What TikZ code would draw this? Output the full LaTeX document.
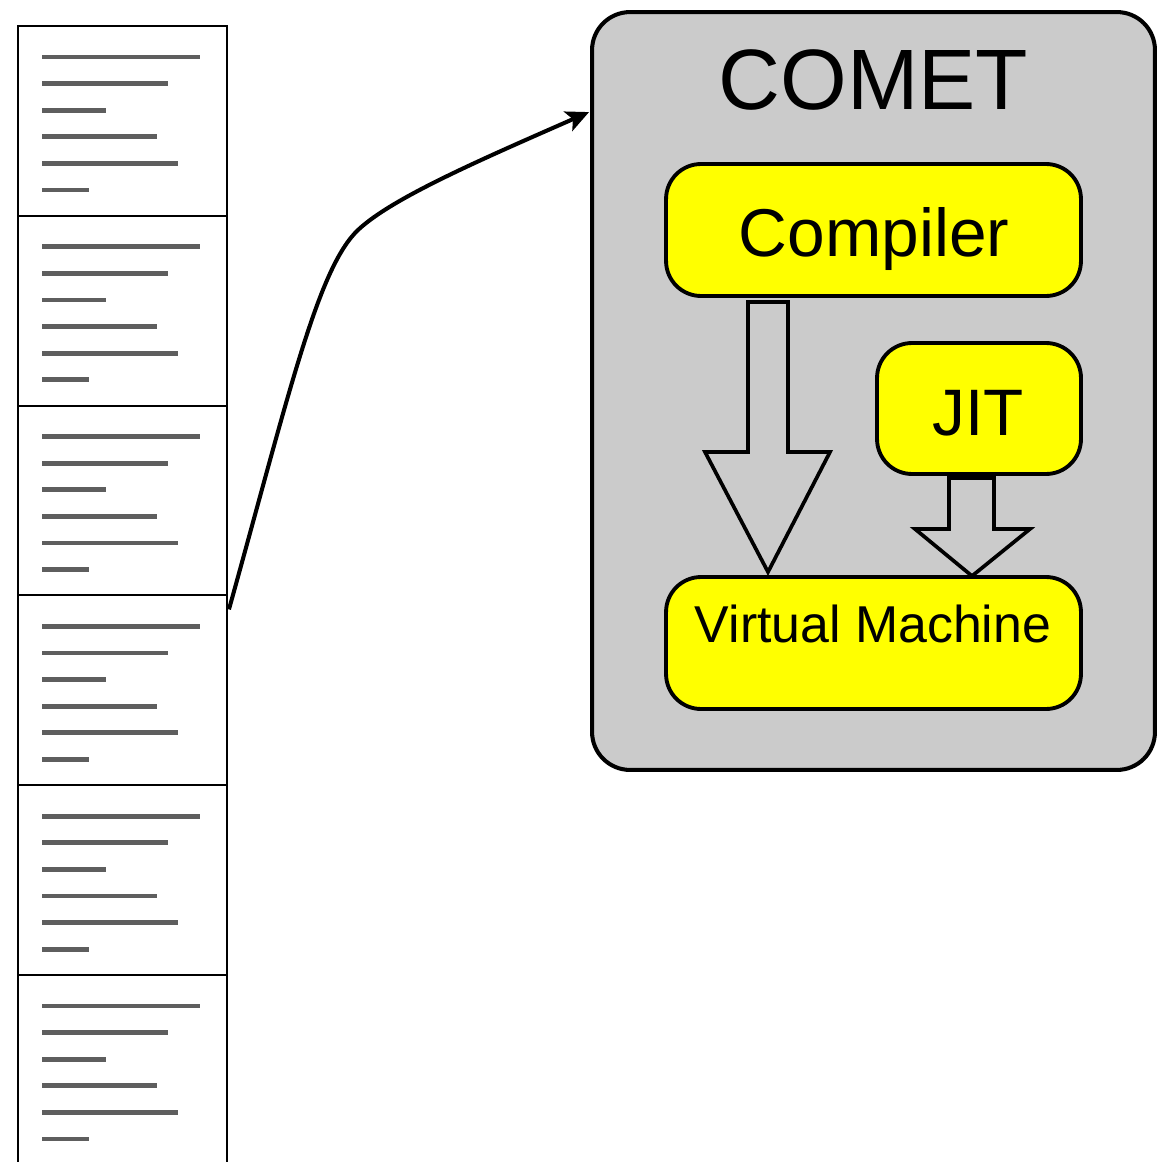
\documentclass[tikz,border=0pt]{standalone}
\usepackage{fontspec}
\setmainfont{Liberation Sans}
\usetikzlibrary{calc,arrows.meta}
\definecolor{cometgray}{HTML}{CBCBCB}
\definecolor{boxyellow}{HTML}{FFFF00}
\definecolor{textline}{HTML}{5E5E5E}
\begin{document}
\begin{tikzpicture}[x=0.02cm,y=-0.02cm,
  docbox/.style={draw=black,line width=1.1pt,fill=white,minimum width=4.18cm,minimum height=3.796cm,inner sep=0pt,outer sep=0pt,anchor=north west},
  docline/.style={draw=textline,line width=2.8pt},
  container/.style={draw=black,line width=2.3pt,fill=cometgray,rounded corners=0.76cm,minimum width=11.26cm,minimum height=15.16cm,inner sep=0pt,outer sep=0pt},
  ybox/.style={draw=black,line width=2.2pt,fill=boxyellow,rounded corners=0.7cm,minimum height=2.64cm,inner sep=0pt,outer sep=0pt},
  blockarrow/.style={draw=black,line width=2.1pt,fill=cometgray,line join=miter},
  label/.style={anchor=base,inner sep=0pt},
  flow/.style={draw=black,line width=2.3pt,-{Stealth[length=13pt,width=12pt,inset=3pt]}}
]
\useasboundingbox (0,0) rectangle (1157,1162);
\clip (0,0) rectangle (1157,1162);

% document stack
\foreach \i in {1,...,6}{
  \node[docbox] (d\i) at (18,{26+(\i-1)*189.8}) {};
  \foreach \j/\len in {0/158,1/126,2/64,3/115,4/136,5/47}
    \draw[docline] ($(d\i.north west)+(24,{31+26.6*\j})$) -- ++(\len,0);
}

% COMET container
\node[container] (comet) at (873.5,391) {};
\node[label,font=\fontsize{48.8}{50}\selectfont] (comettitle) at (873.5,110) {COMET};

% block arrows
\draw[blockarrow] (748,302) -- (788,302) -- (788,452) -- (830,452) -- (768,572) -- (705,452) -- (748,452) -- cycle;
\draw[blockarrow] (949,478) -- (994,478) -- (994,529) -- (1030,529) -- (972,576) -- (915,529) -- (949,529) -- cycle;

% inner boxes
\node[ybox,minimum width=8.3cm] (compiler) at (873.5,230) {};
\node[label,font=\fontsize{38.5}{40}\selectfont] (compilertext) at (874,256) {Compiler};
\node[ybox,minimum width=4.08cm,minimum height=2.62cm] (jit) at (979,408.5) {};
\node[label,font=\fontsize{37.4}{39}\selectfont] (jittext) at (978,435) {JIT};
\node[ybox,minimum width=8.3cm] (vm) at (873.5,643) {};
\node[label,font=\fontsize{29.5}{31}\selectfont] (vmtext) at (873,642) {Virtual Machine};

% curved connector
\coordinate (src) at ($(d4.north east)+(2,14)$);
\coordinate (bend) at (358,230);
\coordinate (dst) at ($(comet.north west)+(-3,100)$);
\draw[flow] (src) .. controls (290,390) and (318,268) .. (bend) .. controls (392,198) and (480,160) .. (dst);
\end{tikzpicture}
\end{document}
